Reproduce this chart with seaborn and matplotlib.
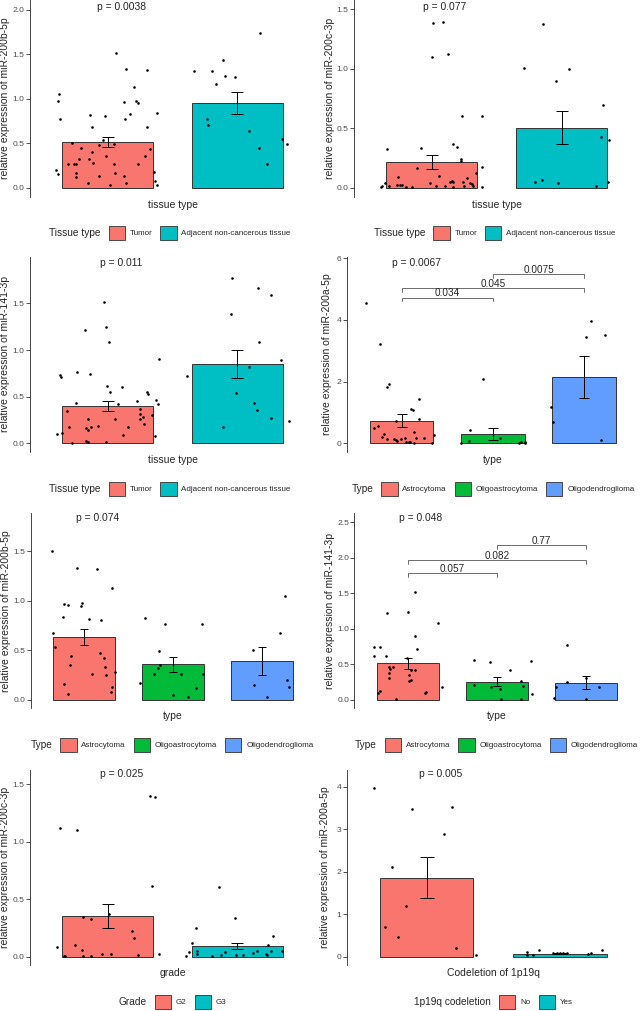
import numpy as np
import pandas as pd
import matplotlib
matplotlib.use("Agg")
import matplotlib.pyplot as plt
import seaborn as sns
from matplotlib.patches import Patch

# ---------------- datos ----------------
two_colors = ["#F8766D", "#00BFC4"]
three_colors = ["#F8766D", "#00BA38", "#619CFF"]

tissue_groups = ["Tumor", "Adjacent non-cancerous tissue"]
type_groups = ["Astrocytoma", "Oligoastrocytoma", "Oligodendroglioma"]
grade_groups = ["G2", "G3"]
codel_groups = ["No", "Yes"]

# panel 1: miR-200b-5p por tejido
p1_means = [0.515, 0.948]
p1_se = [0.058, 0.122]
p1_tumor = [1.517, 1.330, 1.322, 1.135, 1.052, 0.970, 0.959, 0.978, 0.948, 0.816, 0.809, 0.831,
            0.839, 0.768, 0.775, 0.678, 0.682, 0.506, 0.536, 0.491, 0.449, 0.479, 0.401, 0.356,
            0.360, 0.431, 0.318, 0.326, 0.262, 0.262, 0.262, 0.281, 0.262, 0.262, 0.202, 0.176,
            0.150, 0.169, 0.165, 0.116, 0.131, 0.131, 0.075, 0.056, 0.049, 0.026, 0.030]
p1_tumor_jit = [0.064, 0.144, 0.305, 0.2, -0.377, -0.385, 0.128, 0.22, 0.231, -0.138, -0.023, 0.172,
                0.382, -0.367, 0.131, -0.123, 0.305, -0.274, -0.038, 0.046, -0.205, -0.067, -0.118,
                -0.013, 0.287, 0.323, -0.218, -0.141, -0.308, -0.259, -0.246, -0.113, 0.046, 0.233,
                -0.4, 0.359, -0.385, 0.056, -0.246, -0.246, 0.123, -0.064, 0.362, -0.154, 0.144,
                0.021, 0.379]
p1_adj = [1.734, 1.434, 1.315, 1.311, 1.258, 1.240, 1.161, 0.768, 0.704, 0.633, 0.551, 0.487, 0.446, 0.266]
p1_adj_jit = [0.175, -0.114, -0.332, -0.196, -0.096, -0.019, -0.161, -0.235, -0.227, 0.091, 0.345,
              0.381, 0.165, 0.232]

# panel 2: miR-200c-3p por tejido
p2_means = [0.216, 0.505]
p2_se = [0.056, 0.139]
p2_tumor = [1.388, 1.396, 1.096, 1.121, 0.606, 0.606, 0.336, 0.367, 0.339, 0.325, 0.241, 0.227,
            0.163, 0.177, 0.093, 0.098, 0.121, 0.014, 0.036, 0.014, 0.025, 0.020, 0.020, 0.008,
            0.008, 0.042, 0.014, 0.014, 0.050, 0.059, 0.048, 0.008, 0.045, 0.014, 0.081, 0.036,
            0.028, 0.014, 0.003, 0.008]
p2_tumor_jit = [0.009, 0.089, 0.001, 0.125, 0.23, 0.39, -0.081, 0.163, 0.197, -0.344, 0.228, 0.225,
                -0.115, 0.387, -0.259, 0.055, 0.341, -0.388, -0.364, -0.334, -0.269, -0.249, -0.228,
                -0.202, -0.151, -0.017, 0.029, 0.101, 0.137, 0.155, 0.163, 0.163, 0.24, 0.248, 0.274,
                0.297, 0.307, 0.318, 0.39, -0.39]
p2_adj = [1.377, 1.004, 0.995, 0.900, 0.692, 0.429, 0.401, 0.045, 0.062, 0.039, 0.011, 0.050]
p2_adj_jit = [-0.142, -0.288, 0.059, -0.041, 0.319, 0.304, 0.368, -0.203, -0.154, -0.026, 0.265, 0.36]

# panel 3: miR-141-3p por tejido
p3_means = [0.404, 0.852]
p3_se = [0.054, 0.15]
p3_tumor = [1.518, 1.243, 1.214, 1.082, 0.907, 0.736, 0.714, 0.761, 0.743, 0.618, 0.550, 0.607,
            0.546, 0.532, 0.432, 0.425, 0.457, 0.464, 0.421, 0.350, 0.371, 0.311, 0.279, 0.261,
            0.307, 0.211, 0.257, 0.186, 0.264, 0.179, 0.175, 0.164, 0.143, 0.171, 0.086, 0.104,
            0.111, 0.082, 0.021, 0.011, 0.011, 0.000]
p3_tumor_jit = [-0.026, -0.015, -0.174, 0.013, 0.395, -0.369, -0.364, -0.241, -0.138, -0.003, 0.015,
                0.11, 0.303, 0.31, -0.246, 0.079, 0.223, 0.374, 0.385, -0.313, 0.251, 0.246, 0.272,
                0.246, 0.341, 0.279, 0.059, -0.077, -0.156, -0.3, -0.126, -0.164, -0.154, 0.156,
                0.118, -0.39, -0.356, 0.362, -0.167, -0.156, -0.01, -0.274]
p3_adj = [1.768, 1.661, 1.589, 1.382, 1.089, 0.896, 0.721, 0.818, 0.536, 0.432, 0.354, 0.179, 0.271, 0.236]
p3_adj_jit = [-0.04, 0.157, 0.26, -0.05, 0.17, 0.337, -0.391, 0.091, -0.009, 0.129, 0.15, -0.107,
              0.257, 0.396]

# panel 4: miR-200a-5p por tipo
p4_means = [0.735, 0.303, 2.15]
p4_se = [0.205, 0.205, 0.69]
p4_astro = [4.54, 3.22, 1.84, 1.91, 1.43, 1.12, 1.08, 0.78, 0.71, 0.56, 0.49, 0.29, 0.38, 0.19,
            0.14, 0.13, 0.12, 0.08, 0.15, 0.16, 0.05, 0.03, 0.05, 0.02, 0.16, 0.17, 0.26, 0.02]
p4_astro_jit = [-0.386, -0.24, -0.156, -0.141, 0.196, 0.104, 0.126, 0.192, -0.064, -0.255, -0.302,
                -0.189, 0.134, -0.218, -0.156, -0.082, -0.064, -0.049, -0.005, 0.038, 0.082, 0.093,
                0.053, 0.137, 0.156, 0.251, 0.357, 0.335]
p4_oligoastro = [2.09, 0.43, 0.09, 0.16, 0.02, 0.02, 0.03, 0.05, 0.02]
p4_oligoastro_jit = [-0.106, -0.253, -0.256, 0.073, -0.352, 0.286, 0.304, 0.348, 0.355]
p4_oligodendro = [3.98, 3.46, 3.51, 1.17, 0.68, 0.12]
p4_oligodendro_jit = [0.071, 0.016, 0.225, -0.368, -0.339, 0.181]
p4_pairs = [(0, 1, 4.72, "0.034"), (0, 2, 5.03, "0.045"), (1, 2, 5.49, "0.0075")]

# panel 5: miR-200b-5p por tipo
p5_means = [0.634, 0.359, 0.389]
p5_se = [0.083, 0.077, 0.141]
p5_astro = [1.503, 1.326, 1.315, 1.128, 0.966, 0.953, 0.973, 0.943, 0.832, 0.815, 0.805, 0.674,
            0.537, 0.443, 0.477, 0.426, 0.356, 0.329, 0.282, 0.262, 0.255, 0.131, 0.164, 0.077, 0.057]
p5_astro_jit = [-0.359, -0.075, 0.146, 0.322, -0.221, -0.183, -0.026, -0.034, -0.239, 0.06, 0.198,
                -0.348, -0.322, -0.146, 0.187, 0.224, -0.153, 0.239, 0.352, 0.094, 0.254, 0.314,
                -0.224, 0.303, -0.18]
p5_oligoastro = [0.826, 0.762, 0.765, 0.493, 0.356, 0.326, 0.258, 0.262, 0.262, 0.174, 0.117, 0.047, 0.027]
p5_oligoastro_jit = [-0.316, -0.085, 0.331, -0.156, -0.144, -0.163, -0.212, 0.091, 0.342, -0.373,
                     0.267, 0.001, 0.166]
p5_oligodendro = [1.047, 0.671, 0.5, 0.148, 0.198, 0.131, 0.027]
p5_oligodendro_jit = [0.26, 0.204, -0.1, -0.088, 0.286, 0.305, 0.065]

# panel 6: miR-141-3p por tipo
p6_means = [0.516, 0.258, 0.244]
p6_se = [0.08, 0.06, 0.096]
p6_astro = [1.52, 1.22, 1.238, 1.083, 0.905, 0.746, 0.75, 0.718, 0.614, 0.619, 0.591, 0.469, 0.46,
            0.436, 0.422, 0.422, 0.352, 0.375, 0.314, 0.277, 0.263, 0.117, 0.103, 0.127, 0.094,
            0.009, 0.178]
p6_astro_jit = [0.082, -0.228, 0.007, 0.337, 0.082, -0.378, -0.307, 0.108, -0.378, -0.243, -0.007,
                -0.21, -0.168, -0.202, 0.041, 0.082, 0.015, -0.206, -0.213, 0.034, 0.015, 0.21,
                0.191, -0.314, -0.329, -0.127, 0.382]
p6_oligoastro = [0.558, 0.535, 0.422, 0.553, 0.216, 0.178, 0.155, 0.263, 0.192, 0.089, 0.009, 0.009]
p6_oligoastro_jit = [-0.258, -0.075, 0.142, 0.385, -0.258, -0.064, 0.034, 0.269, 0.296, 0.393, 0.041, 0.266]
p6_oligodendro = [0.769, 0.258, 0.188, 0.178, 0.028, 0.009, 0.305]
p6_oligodendro_jit = [-0.219, -0.215, -0.335, 0.151, -0.361, -0.002, 0.005]
p6_pairs = [(0, 1, 1.78, "0.057"), (0, 2, 1.97, "0.082"), (1, 2, 2.18, "0.77")]

# panel 7: miR-200c-3p por grado
p7_means = [0.356, 0.093]
p7_se = [0.106, 0.029]
p7_g2 = [1.399, 1.39, 1.121, 1.1, 0.611, 0.371, 0.342, 0.327, 0.226, 0.165, 0.087, 0.098, 0.058,
         0.009, 0.006, 0.006, 0.009, 0.026, 0.026, 0.012, 0.02]
p7_g2_jit = [0.323, 0.367, -0.372, -0.241, 0.344, 0.01, -0.192, -0.126, 0.185, 0.205, -0.395, -0.249,
             -0.197, -0.338, -0.331, -0.192, -0.131, -0.041, 0.023, 0.233, 0.395]
p7_g3 = [0.608, 0.339, 0.246, 0.177, 0.122, 0.041, 0.006, 0.049, 0.026, 0.006, 0.017, 0.043, 0.017,
         0.017, 0.032, 0.046, 0.02, 0.014, 0.101, 0.049, 0.049]
p7_g3_jit = [-0.143, -0.019, -0.319, 0.273, -0.348, -0.373, -0.394, -0.312, -0.312, -0.194, -0.127,
             -0.091, -0.009, 0.045, 0.124, 0.15, 0.219, 0.227, 0.237, 0.258, 0.347]

# panel 8: miR-200a-5p por codeleción 1p19q
p8_means = [1.855, 0.075]
p8_se = [0.48, 0.01]
p8_no = [3.976, 3.467, 3.514, 2.894, 2.102, 1.192, 0.706, 0.455, 0.196, 0.039]
p8_no_jit = [-0.395, -0.113, 0.193, 0.128, -0.26, -0.153, -0.31, -0.215, 0.223, 0.368]
p8_yes = [0.11, 0.039, 0.149, 0.039, 0.086, 0.086, 0.086, 0.086, 0.086, 0.063, 0.078, 0.149]
p8_yes_jit = [-0.25, -0.245, -0.16, -0.2, -0.05, -0.025, 0.0, 0.025, 0.05, 0.213, 0.23, 0.313]

# ---------------- figura ----------------
sns.set_style("ticks")
plt.rcParams["font.family"] = ["Liberation Sans", "DejaVu Sans"]

W, H = 640, 1011
fig = plt.figure(figsize=(W / 100, H / 100), dpi=100)


def title_left(leg):
    # poner el título de la leyenda a la izquierda (estilo ggplot)
    box = leg._legend_box
    title_box, handle_box = box.get_children()
    box._children = [handle_box]
    handle_box._children = [title_box] + handle_box.get_children()
    handle_box.align = "center"


def panel(rect, groups, colors, means, ses, points, jitters, ylab, xlab, ylim, yticks, fmt,
          p_text, p_x, p_y, ylab_x, leg_title, leg_xy, pairs=None, tick_len=0.0):
    x0, y0, x1, y1 = rect
    ax = fig.add_axes([x0 / W, 1 - y1 / H, (x1 - x0) / W, (y1 - y0) / H])
    n = len(groups)
    sns.barplot(x=groups, y=means, hue=groups, palette=colors, legend=False, width=0.7,
                saturation=1, edgecolor="#333333", linewidth=0.7, errorbar=None, ax=ax, zorder=1)
    pts = pd.DataFrame({
        "x": np.concatenate([i + np.array(j) for i, j in enumerate(jitters)]),
        "y": np.concatenate(points),
    })
    sns.scatterplot(data=pts, x="x", y="y", color="black", s=3.5, linewidth=0, ax=ax, zorder=3)
    cap = 0.05 * (x1 - x0) / (n + 0.2) * 72 / 100
    ax.errorbar(range(n), means, yerr=ses, fmt="none", ecolor="black", elinewidth=0.7,
                capsize=cap, capthick=0.7, zorder=4)

    ax.set_xlim(-0.6, n - 0.4)
    ax.set_ylim(*ylim)
    ax.set_yticks(yticks)
    ax.set_yticklabels([fmt.format(t) for t in yticks])
    ax.set_xticks([])
    sns.despine(ax=ax, bottom=True)
    ax.spines["left"].set_linewidth(0.6)
    ax.tick_params(axis="y", length=2.8, width=0.6, pad=1, labelsize=6.1,
                   labelcolor="#4D4D4D", color="#333333")
    ax.set_ylabel(ylab, fontsize=7.5)
    ax.set_xlabel(xlab, fontsize=7.5)
    ax.yaxis.set_label_coords(ylab_x, 0.5)
    ax.xaxis.set_label_coords(0.5, -3 / (y1 - y0))
    ax.text(p_x, p_y, p_text, ha="center", va="center", fontsize=7.4)

    if pairs:
        for i, j, y, lab in pairs:
            ax.plot([i, i, j, j], [y - tick_len, y, y, y - tick_len], color="#555555", lw=0.6)
            ax.annotate(lab, xy=((i + j) / 2, y), xytext=(0, 1), textcoords="offset points",
                        ha="center", va="baseline", fontsize=7.2)

    handles = [Patch(facecolor=c, edgecolor="#333333", linewidth=0.6) for c in colors]
    leg = ax.legend(handles, groups, title=leg_title, loc="center",
                    bbox_to_anchor=(leg_xy[0] / W, 1 - leg_xy[1] / H), bbox_transform=fig.transFigure,
                    ncol=n, frameon=False, fontsize=5.8, title_fontsize=7.3, handlelength=2.0,
                    handleheight=2.3, handletextpad=0.6, columnspacing=1.0, borderpad=0,
                    borderaxespad=0)
    title_left(leg)
    return ax


panel((30, 0, 315, 197), tissue_groups, two_colors, p1_means, p1_se,
      [p1_tumor, p1_adj], [p1_tumor_jit, p1_adj_jit],
      "relative expression of miR-200b-5p", "tissue type", (-0.104, 2.109),
      [0, 0.5, 1.0, 1.5, 2.0], "{:.1f}", "p = 0.0038", 0.11, 2.034, -0.07,
      "Tissue type", (170, 233))

panel((354, 0, 639.5, 197), tissue_groups, two_colors, p2_means, p2_se,
      [p2_tumor, p2_adj], [p2_tumor_jit, p2_adj_jit],
      "relative expression of miR-200c-3p", "tissue type", (-0.078, 1.579),
      [0, 0.5, 1.0, 1.5], "{:.1f}", "p = 0.077", 0.10, 1.522, -0.068,
      "Tissue type", (494.7, 233))

panel((30, 256.7, 315, 451.7), tissue_groups, two_colors, p3_means, p3_se,
      [p3_tumor, p3_adj], [p3_tumor_jit, p3_adj_jit],
      "relative expression of miR-141-3p", "tissue type", (-0.09, 2.0),
      [0, 0.5, 1.0, 1.5], "{:.1f}", "p = 0.011", 0.10, 1.936, -0.07,
      "Tissue type", (170, 489))

panel((346.7, 256.7, 639, 451.7), type_groups, three_colors, p4_means, p4_se,
      [p4_astro, p4_oligoastro, p4_oligodendro],
      [p4_astro_jit, p4_oligoastro_jit, p4_oligodendro_jit],
      "relative expression of miR-200a-5p", "type", (-0.272, 6.05),
      [0, 2, 4, 6], "{:.0f}", "p = 0.0067", 0.16, 5.86, -0.05,
      "Type", (493, 489), pairs=p4_pairs, tick_len=0.12)

panel((30.5, 513.3, 315, 708.3), type_groups, three_colors, p5_means, p5_se,
      [p5_astro, p5_oligoastro, p5_oligodendro],
      [p5_astro_jit, p5_oligoastro_jit, p5_oligodendro_jit],
      "relative expression of miR-200b-5p", "type", (-0.084, 1.88),
      [0, 0.5, 1.0, 1.5], "{:.1f}", "p = 0.074", 0.154, 1.83, -0.07,
      "Type", (172, 745))

panel((354.3, 513.3, 639.5, 708.3), type_groups, three_colors, p6_means, p6_se,
      [p6_astro, p6_oligoastro, p6_oligodendro],
      [p6_astro_jit, p6_oligoastro_jit, p6_oligodendro_jit],
      "relative expression of miR-141-3p", "type", (-0.117, 2.626),
      [0, 0.5, 1.0, 1.5, 2.0, 2.5], "{:.1f}", "p = 0.048", 0.144, 2.556, -0.068,
      "Type", (496.5, 745), pairs=p6_pairs, tick_len=0.052)

panel((30, 770, 315, 965), grade_groups, two_colors, p7_means, p7_se,
      [p7_g2, p7_g3], [p7_g2_jit, p7_g3_jit],
      "relative expression of miR-200c-3p", "grade", (-0.072, 1.622),
      [0, 0.5, 1.0, 1.5], "{:.1f}", "p = 0.025", 0.104, 1.585, -0.07,
      "Grade", (172.5, 1002))

panel((346.7, 770, 640, 965), codel_groups, two_colors, p8_means, p8_se,
      [p8_no, p8_yes], [p8_no_jit, p8_yes_jit],
      "relative expression of miR-200a-5p", "Codeletion of 1p19q", (-0.195, 4.39),
      [0, 1, 2, 3, 4], "{:.0f}", "p = 0.005", 0.106, 4.29, -0.057,
      "1p19q codeletion", (493.5, 1002))

fig.savefig("out.png", dpi=100)
